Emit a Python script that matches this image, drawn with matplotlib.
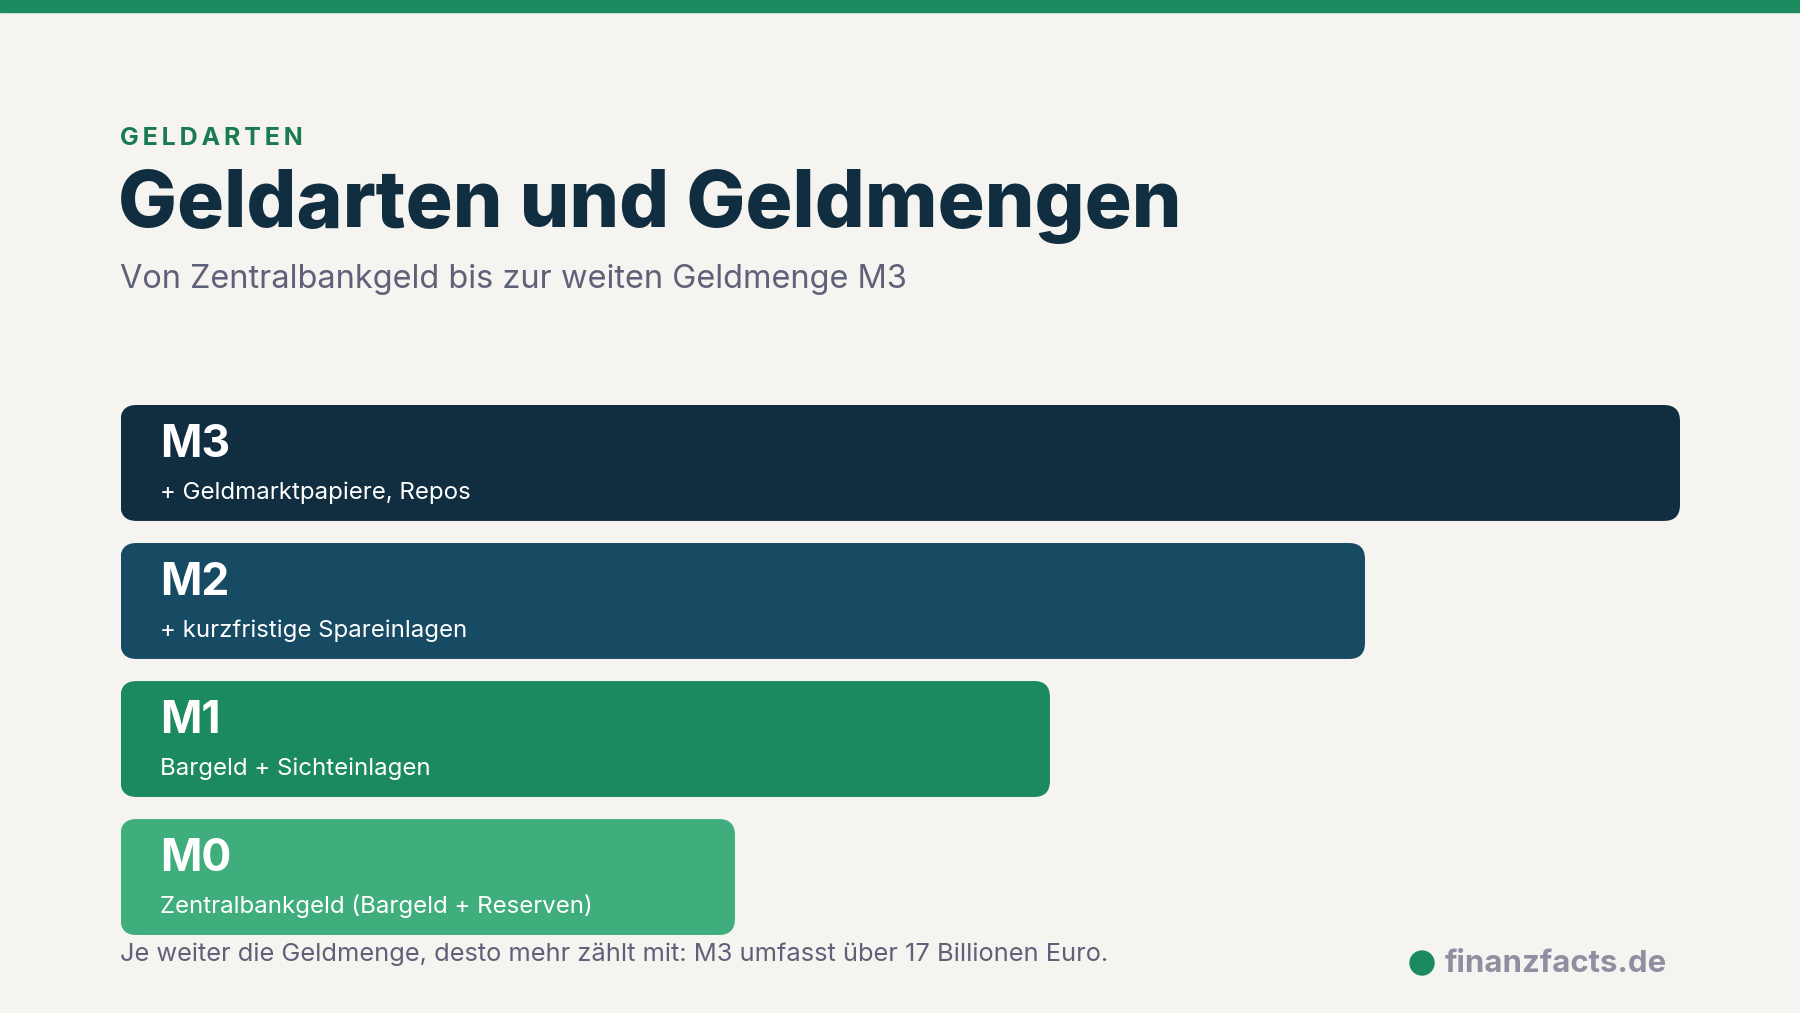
import matplotlib
matplotlib.use("Agg")
import matplotlib.pyplot as plt
from matplotlib.patches import FancyBboxPatch, Ellipse

# data
levels = ["M0", "M1", "M2", "M3"]
descriptions = [
    "Zentralbankgeld (Bargeld + Reserven)",
    "Bargeld + Sichteinlagen",
    "+ kurzfristige Spareinlagen",
    "+ Geldmarktpapiere, Repos",
]
widths = [39.4, 59.6, 79.8, 100]
colors = ["#40ae7c", "#1b8a5e", "#174a63", "#112d40"]

BG = "#f5f4f0"
NAVY = "#112d40"
GREEN = "#1b8a5e"
GREY = "#5f6178"

W, H = 1800, 1013
fig = plt.figure(figsize=(W / 100, H / 100), dpi=100, facecolor=BG)
plt.rcParams["font.family"] = ["Inter", "DejaVu Sans"]

def fx(px):
    return px / W

def fy(py):
    return 1 - py / H

# green band on top
fig.patches.append(plt.Rectangle((0, fy(12)), 1, 12 / H, transform=fig.transFigure,
                                 color=GREEN, zorder=0))

# header
fig.text(fx(120), fy(145), "\u2009".join("GELDARTEN"), color="#1a7a50",
         fontsize=18, fontweight="bold", va="baseline")
fig.text(fx(118), fy(227), "Geldarten und Geldmengen", color=NAVY,
         fontsize=56.5, fontweight="heavy", va="baseline")
fig.text(fx(120), fy(288), "Von Zentralbankgeld bis zur weiten Geldmenge M3",
         color=GREY, fontsize=23.4, va="baseline")

# bars
x0, x1 = 120.5, 1680
ytop, ybot = 405, 935
ax = fig.add_axes([fx(x0), fy(ybot), fx(x1 - x0), (ybot - ytop) / H])
ax.set_facecolor("none")
ypos = range(len(levels))
bars = ax.barh(ypos, widths, height=0.84, color=colors)
ax.set_xlim(0, 100)
ax.set_ylim(-0.42, 3.42)
ax.axis("off")

px_x = (x1 - x0) / 100.0
px_y = (ybot - ytop) / 3.84
for b, c in zip(bars, colors):
    b.set_visible(False)
    p = FancyBboxPatch((b.get_x(), b.get_y()), b.get_width(), b.get_height(),
                       boxstyle="round,pad=0,rounding_size=%f" % (16 / px_x),
                       mutation_aspect=px_x / px_y, facecolor=c, edgecolor="none")
    ax.add_patch(p)

for y, name, desc in zip(ypos, levels, descriptions):
    ax.annotate(name, xy=(0, y), xytext=(40 * 0.72, 6 * 0.72), textcoords="offset points",
                color="white", fontsize=32, fontweight="bold", va="baseline", ha="left")
    ax.annotate(desc, xy=(0, y), xytext=(40 * 0.72, -36 * 0.72), textcoords="offset points",
                color="white", fontsize=17.3, va="baseline", ha="left")

# footer
fig.text(fx(120), fy(961), "Je weiter die Geldmenge, desto mehr z\u00e4hlt mit: M3 umfasst \u00fcber 17 Billionen Euro.",
         color=GREY, fontsize=18.3, va="baseline")
fig.patches.append(Ellipse((fx(1422), fy(963)), 24 / W, 24 / H, transform=fig.transFigure,
                           color=GREEN))
fig.text(fx(1445), fy(972), "finanzfacts.de", color="#8e8fa0", fontsize=22.4,
         fontweight="bold", va="baseline")

fig.savefig("out.png", dpi=100, facecolor=BG)
